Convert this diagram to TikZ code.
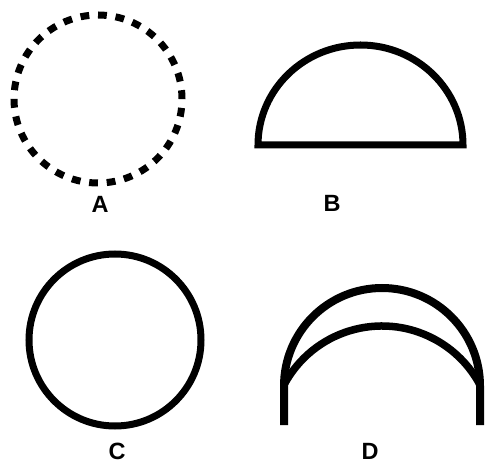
\documentclass[tikz,border=0pt]{standalone}
\usepackage{fontspec}
\setsansfont{Liberation Sans}

\begin{document}
\begin{tikzpicture}[
  x=1pt,y=1pt,
  outline/.style={line width=7pt},
  caption/.style={anchor=base,inner sep=0pt,font=\sffamily\bfseries\fontsize{23.5}{24}\selectfont}
]
  \useasboundingbox (0,0) rectangle (486,463);
  % A: dashed circle
  \draw[outline,dash pattern=on 8.8pt off 8.79pt] (98,364) circle[radius=84];
  \node[caption] (labelA) at (100,250) {A};
  % B: half disc
  \draw[outline,line join=miter] (258,318) arc[start angle=180,end angle=0,x radius=102.5,y radius=100] -- cycle;
  \node[caption] (labelB) at (332,251) {B};
  % C: full circle
  \draw[outline] (115,123) circle[radius=86];
  \node[caption] (labelC) at (117,3.5) {C};
  % D: two arches
  \draw[outline,line width=8pt] (284,38) -- (284,77) arc[start angle=180,end angle=0,radius=98] -- (480,38);
  \draw[outline,line width=7.5pt] (382,26) ++(152:111) arc[start angle=152,end angle=28,radius=111];
  \node[caption] (labelD) at (370,3.5) {D};
\end{tikzpicture}
\end{document}
